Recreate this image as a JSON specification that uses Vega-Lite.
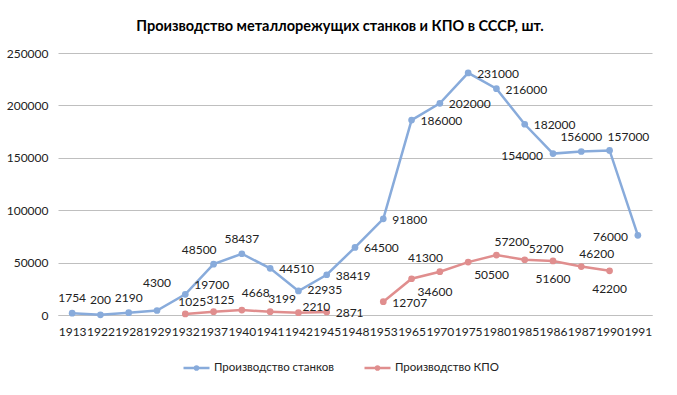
{
  "$schema": "https://vega.github.io/schema/vega-lite/v6.json",
  "width": 594,
  "height": 262,
  "autosize": {"type": "none"},
  "padding": {"left": 58, "top": 53, "right": 25, "bottom": 80},
  "background": "white",
  "title": {
    "text": "Производство металлорежущих станков и КПО в СССР, шт.",
    "font": "Lato",
    "fontSize": 14.5,
    "fontWeight": "bold",
    "color": "#000000",
    "anchor": "middle",
    "dx": -15,
    "offset": 13
  },
  "config": {
    "view": {"stroke": null},
    "font": "Lato",
    "mark": {"invalid": "break-paths-filter-domains"}
  },
  "data": {
    "values": [
      {"year": "1913", "series": "Производство станков", "value": 1754},
      {"year": "1922", "series": "Производство станков", "value": 200},
      {"year": "1928", "series": "Производство станков", "value": 2190},
      {"year": "1929", "series": "Производство станков", "value": 4300},
      {"year": "1932", "series": "Производство станков", "value": 19700},
      {"year": "1937", "series": "Производство станков", "value": 48500},
      {"year": "1940", "series": "Производство станков", "value": 58437},
      {"year": "1941", "series": "Производство станков", "value": 44510},
      {"year": "1942", "series": "Производство станков", "value": 22935},
      {"year": "1945", "series": "Производство станков", "value": 38419},
      {"year": "1948", "series": "Производство станков", "value": 64500},
      {"year": "1953", "series": "Производство станков", "value": 91800},
      {"year": "1965", "series": "Производство станков", "value": 186000},
      {"year": "1970", "series": "Производство станков", "value": 202000},
      {"year": "1975", "series": "Производство станков", "value": 231000},
      {"year": "1980", "series": "Производство станков", "value": 216000},
      {"year": "1985", "series": "Производство станков", "value": 182000},
      {"year": "1986", "series": "Производство станков", "value": 154000},
      {"year": "1987", "series": "Производство станков", "value": 156000},
      {"year": "1990", "series": "Производство станков", "value": 157000},
      {"year": "1991", "series": "Производство станков", "value": 76000},
      {"year": "1932", "series": "Производство КПО", "value": 1025},
      {"year": "1937", "series": "Производство КПО", "value": 3125},
      {"year": "1940", "series": "Производство КПО", "value": 4668},
      {"year": "1941", "series": "Производство КПО", "value": 3199},
      {"year": "1942", "series": "Производство КПО", "value": 2210},
      {"year": "1945", "series": "Производство КПО", "value": 2871},
      {"year": "1948", "series": "Производство КПО", "value": null},
      {"year": "1953", "series": "Производство КПО", "value": 12707},
      {"year": "1965", "series": "Производство КПО", "value": 34600},
      {"year": "1970", "series": "Производство КПО", "value": 41300},
      {"year": "1975", "series": "Производство КПО", "value": 50500},
      {"year": "1980", "series": "Производство КПО", "value": 57200},
      {"year": "1985", "series": "Производство КПО", "value": 52700},
      {"year": "1986", "series": "Производство КПО", "value": 51600},
      {"year": "1987", "series": "Производство КПО", "value": 46200},
      {"year": "1990", "series": "Производство КПО", "value": 42200}
    ]
  },
  "encoding": {
    "x": {
      "field": "year",
      "type": "ordinal",
      "scale": {"type": "point", "padding": 0.5, "domain": ["1913","1922","1928","1929","1932","1937","1940","1941","1942","1945","1948","1953","1965","1970","1975","1980","1985","1986","1987","1990","1991"]},
      "axis": {
        "title": null,
        "labelAngle": 0,
        "labelFont": "Lato",
        "labelFontSize": 12,
        "labelColor": "#222222",
        "labelOverlap": false,
        "labelPadding": 11,
        "ticks": false,
        "domain": true,
        "domainColor": "#BFBFBF",
        "grid": false
      }
    },
    "y": {
      "field": "value",
      "type": "quantitative",
      "scale": {"domain": [0, 250000], "nice": false},
      "axis": {
        "title": null,
        "values": [0, 50000, 100000, 150000, 200000, 250000],
        "format": "d",
        "labelFont": "Lato",
        "labelFontSize": 12,
        "labelColor": "#222222",
        "labelPadding": 10,
        "ticks": false,
        "domain": false,
        "grid": true,
        "gridColor": "#BFBFBF",
        "gridWidth": 1
      }
    },
    "color": {
      "field": "series",
      "type": "nominal",
      "scale": {"domain": ["Производство станков", "Производство КПО"], "range": ["#88ABDB", "#E08E8E"]},
      "legend": {
        "title": null,
        "orient": "none",
        "direction": "horizontal",
        "legendX": 124,
        "legendY": 300,
        "labelFont": "Lato",
        "labelFontSize": 11.5,
        "labelColor": "#222222",
        "labelOffset": 3,
        "columnPadding": 24,
        "symbolType": "M-1,0L1,0M0.12,0A0.12,0.12,0,1,1,-0.12,0A0.12,0.12,0,1,1,0.12,0",
        "symbolSize": 676,
        "symbolStrokeWidth": 2.5
      }
    }
  },
  "layer": [
    {"mark": {"type": "line", "strokeWidth": 2.5}},
    {"transform": [{"filter": "datum.value != null"}], "mark": {"type": "point", "filled": true, "opacity": 1, "size": 45}},
    {
      "transform": [{"filter": "(datum.series == 'Производство станков' && indexof(['1913','1922','1928','1940','1987'], datum.year) >= 0)"}],
      "mark": {"type": "text", "align": "center", "dy": -15, "fontSize": 12},
      "encoding": {"text": {"field": "value", "type": "quantitative", "format": "d"}, "color": {"value": "#222222"}}
    },
    {
      "transform": [{"filter": "datum.series == 'Производство станков' && datum.year == '1929'"}],
      "mark": {"type": "text", "align": "center", "dy": -27, "fontSize": 12},
      "encoding": {"text": {"field": "value", "type": "quantitative", "format": "d"}, "color": {"value": "#222222"}}
    },
    {
      "transform": [{"filter": "datum.series == 'Производство станков' && datum.year == '1932'"}],
      "mark": {"type": "text", "align": "left", "dx": 9, "dy": -9, "fontSize": 12},
      "encoding": {"text": {"field": "value", "type": "quantitative", "format": "d"}, "color": {"value": "#222222"}}
    },
    {
      "transform": [{"filter": "datum.series == 'Производство КПО' && indexof(['1932','1937'], datum.year) >= 0"}],
      "mark": {"type": "text", "align": "left", "dx": -7, "dy": -12, "fontSize": 12},
      "encoding": {"text": {"field": "value", "type": "quantitative", "format": "d"}, "color": {"value": "#222222"}}
    },
    {
      "transform": [{"filter": "datum.series == 'Производство КПО' && datum.year == '1940'"}],
      "mark": {"type": "text", "align": "left", "dx": 0, "dy": -17, "fontSize": 12},
      "encoding": {"text": {"field": "value", "type": "quantitative", "format": "d"}, "color": {"value": "#222222"}}
    },
    {
      "transform": [{"filter": "datum.series == 'Производство КПО' && datum.year == '1942'"}],
      "mark": {"type": "text", "align": "left", "dx": 4, "dy": -6, "fontSize": 12},
      "encoding": {"text": {"field": "value", "type": "quantitative", "format": "d"}, "color": {"value": "#222222"}}
    },
    {
      "transform": [{"filter": "datum.series == 'Производство КПО' && datum.year == '1985'"}],
      "mark": {"type": "text", "align": "left", "dx": 4, "dy": -11, "fontSize": 12},
      "encoding": {"text": {"field": "value", "type": "quantitative", "format": "d"}, "color": {"value": "#222222"}}
    },
    {
      "transform": [{"filter": "(datum.series == 'Производство станков' && datum.year == '1990') || (datum.series == 'Производство КПО' && indexof(['1941','1980','1987'], datum.year) >= 0)"}],
      "mark": {"type": "text", "align": "left", "dx": -2, "dy": -13, "fontSize": 12},
      "encoding": {"text": {"field": "value", "type": "quantitative", "format": "d"}, "color": {"value": "#222222"}}
    },
    {
      "transform": [{"filter": "(datum.series == 'Производство станков' && indexof(['1941','1945','1948','1953','1965','1970','1975','1980','1985'], datum.year) >= 0) || (datum.series == 'Производство КПО' && indexof(['1945','1953'], datum.year) >= 0)"}],
      "mark": {"type": "text", "align": "left", "dx": 9, "dy": 1, "fontSize": 12},
      "encoding": {"text": {"field": "value", "type": "quantitative", "format": "d"}, "color": {"value": "#222222"}}
    },
    {
      "transform": [{"filter": "datum.series == 'Производство станков' && datum.year == '1942'"}],
      "mark": {"type": "text", "align": "left", "dx": 9, "dy": -1, "fontSize": 12},
      "encoding": {"text": {"field": "value", "type": "quantitative", "format": "d"}, "color": {"value": "#222222"}}
    },
    {
      "transform": [{"filter": "datum.series == 'Производство станков' && indexof(['1986','1991'], datum.year) >= 0"}],
      "mark": {"type": "text", "align": "right", "dx": -10, "dy": 2, "fontSize": 12},
      "encoding": {"text": {"field": "value", "type": "quantitative", "format": "d"}, "color": {"value": "#222222"}}
    },
    {
      "transform": [{"filter": "datum.series == 'Производство КПО' && indexof(['1986','1990'], datum.year) >= 0"}],
      "mark": {"type": "text", "align": "center", "dy": 18, "fontSize": 12},
      "encoding": {"text": {"field": "value", "type": "quantitative", "format": "d"}, "color": {"value": "#222222"}}
    },
    {
      "transform": [{"filter": "datum.series == 'Производство КПО' && indexof(['1965','1975'], datum.year) >= 0"}],
      "mark": {"type": "text", "align": "left", "dx": 6, "dy": 13, "fontSize": 12},
      "encoding": {"text": {"field": "value", "type": "quantitative", "format": "d"}, "color": {"value": "#222222"}}
    },
    {
      "transform": [{"filter": "(datum.series == 'Производство станков' && datum.year == '1937') || (datum.series == 'Производство КПО' && datum.year == '1970')"}],
      "mark": {"type": "text", "align": "right", "dx": 3, "dy": -14, "fontSize": 12},
      "encoding": {"text": {"field": "value", "type": "quantitative", "format": "d"}, "color": {"value": "#222222"}}
    }
  ]
}
